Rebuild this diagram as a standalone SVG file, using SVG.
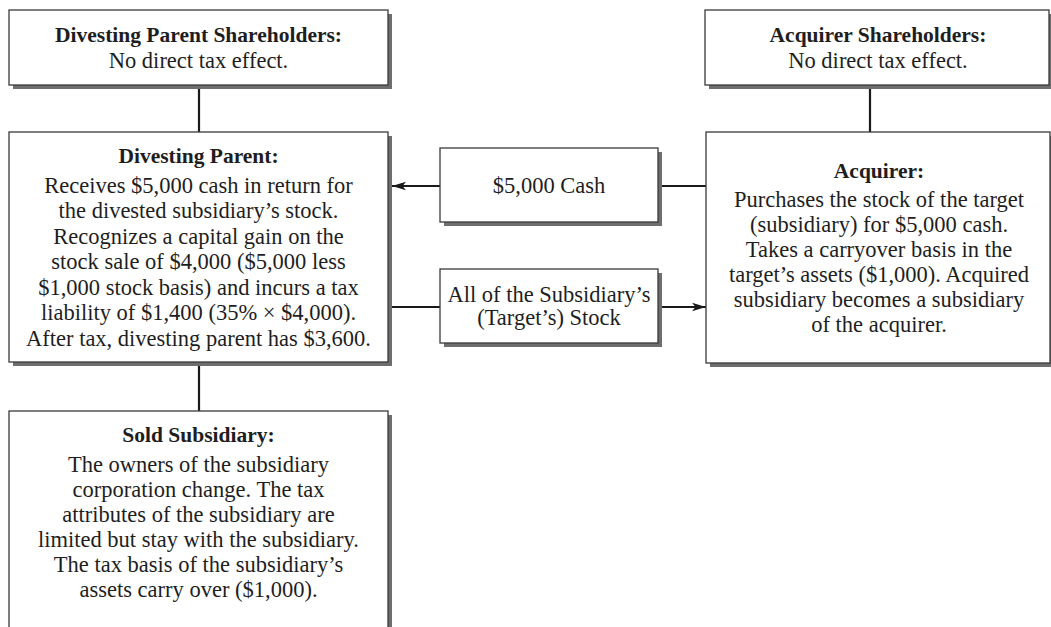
<svg xmlns="http://www.w3.org/2000/svg" width="1051" height="627" viewBox="0 0 1051 627">
  <defs>
    <style>
      .box { fill: #ffffff; stroke: #3a3a3a; stroke-width: 1.3; }
      .shadow { fill: #6e6e6e; }
      .t { font-family: "Liberation Serif", "Times New Roman", serif; font-size: 22.5px; fill: #1e1e1e; text-anchor: middle; }
      .b { font-weight: bold; font-size: 21.5px; }
      .link { stroke: #1a1a1a; stroke-width: 2.2; fill: none; }
    </style>
    <marker id="arrow" markerUnits="userSpaceOnUse" markerWidth="15" markerHeight="10" refX="14" refY="5" orient="auto">
      <path d="M0,0.8 L14,5 L0,9.2 L3.5,5 Z" fill="#1a1a1a"/>
    </marker>
  </defs>

  <rect width="1051" height="627" fill="#ffffff"/>

  <!-- connectors -->
  <g id="connectors">
    <line class="link" x1="199" y1="85" x2="199" y2="132"/>
    <line class="link" x1="870" y1="85" x2="870" y2="132"/>
    <line class="link" x1="199" y1="362" x2="199" y2="411"/>
    <line class="link" x1="706" y1="186" x2="661" y2="186"/>
    <line class="link" x1="440" y1="186" x2="392" y2="186" marker-end="url(#arrow)"/>
    <line class="link" x1="391" y1="307" x2="440" y2="307"/>
    <line class="link" x1="661" y1="307" x2="706" y2="307" marker-end="url(#arrow)"/>
  </g>

  <!-- top-left: divesting parent shareholders -->
  <g id="parent-shareholders">
    <rect class="shadow" x="13" y="14" width="379" height="75"/>
    <rect class="box" x="9" y="10" width="379" height="75"/>
    <text class="t b" x="198.5" y="42">Divesting Parent Shareholders:</text>
    <text class="t" x="198.5" y="68">No direct tax effect.</text>
  </g>

  <!-- top-right: acquirer shareholders -->
  <g id="acquirer-shareholders">
    <rect class="shadow" x="709" y="14" width="344" height="75"/>
    <rect class="box" x="705" y="10" width="344" height="75"/>
    <text class="t b" x="878" y="42">Acquirer Shareholders:</text>
    <text class="t" x="878" y="68">No direct tax effect.</text>
  </g>

  <!-- divesting parent -->
  <g id="divesting-parent">
    <rect class="shadow" x="13" y="136" width="379" height="230"/>
    <rect class="box" x="9" y="132" width="379" height="230"/>
    <text class="t b" x="198.5" y="163">Divesting Parent:</text>
    <text class="t" x="198.5" y="193">Receives $5,000 cash in return for</text>
    <text class="t" x="198.5" y="218">the divested subsidiary’s stock.</text>
    <text class="t" x="198.5" y="244">Recognizes a capital gain on the</text>
    <text class="t" x="198.5" y="269">stock sale of $4,000 ($5,000 less</text>
    <text class="t" x="198.5" y="295">$1,000 stock basis) and incurs a tax</text>
    <text class="t" x="198.5" y="320">liability of $1,400 (35% × $4,000).</text>
    <text class="t" x="198.5" y="346">After tax, divesting parent has $3,600.</text>
  </g>

  <!-- cash transfer -->
  <g id="cash">
    <rect class="shadow" x="444" y="152" width="218" height="74"/>
    <rect class="box" x="440" y="148" width="218" height="74"/>
    <text class="t" x="549" y="193">$5,000 Cash</text>
  </g>

  <!-- stock transfer -->
  <g id="stock">
    <rect class="shadow" x="444" y="273" width="218" height="74"/>
    <rect class="box" x="440" y="269" width="218" height="74"/>
    <text class="t" x="549" y="302">All of the Subsidiary’s</text>
    <text class="t" x="549" y="325">(Target’s) Stock</text>
  </g>

  <!-- acquirer -->
  <g id="acquirer">
    <rect class="shadow" x="710" y="136" width="344" height="231"/>
    <rect class="box" x="706" y="132" width="344" height="231"/>
    <text class="t b" x="879" y="178">Acquirer:</text>
    <text class="t" x="879" y="207">Purchases the stock of the target</text>
    <text class="t" x="879" y="232">(subsidiary) for $5,000 cash.</text>
    <text class="t" x="879" y="257">Takes a carryover basis in the</text>
    <text class="t" x="879" y="282">target’s assets ($1,000). Acquired</text>
    <text class="t" x="879" y="307">subsidiary becomes a subsidiary</text>
    <text class="t" x="879" y="332">of the acquirer.</text>
  </g>

  <!-- sold subsidiary -->
  <g id="sold-subsidiary">
    <rect class="shadow" x="13" y="415" width="379" height="240"/>
    <rect class="box" x="9" y="411" width="379" height="240"/>
    <text class="t b" x="198.5" y="442">Sold Subsidiary:</text>
    <text class="t" x="198.5" y="472">The owners of the subsidiary</text>
    <text class="t" x="198.5" y="497">corporation change. The tax</text>
    <text class="t" x="198.5" y="522">attributes of the subsidiary are</text>
    <text class="t" x="198.5" y="547">limited but stay with the subsidiary.</text>
    <text class="t" x="198.5" y="572">The tax basis of the subsidiary’s</text>
    <text class="t" x="198.5" y="597">assets carry over ($1,000).</text>
  </g>
</svg>
